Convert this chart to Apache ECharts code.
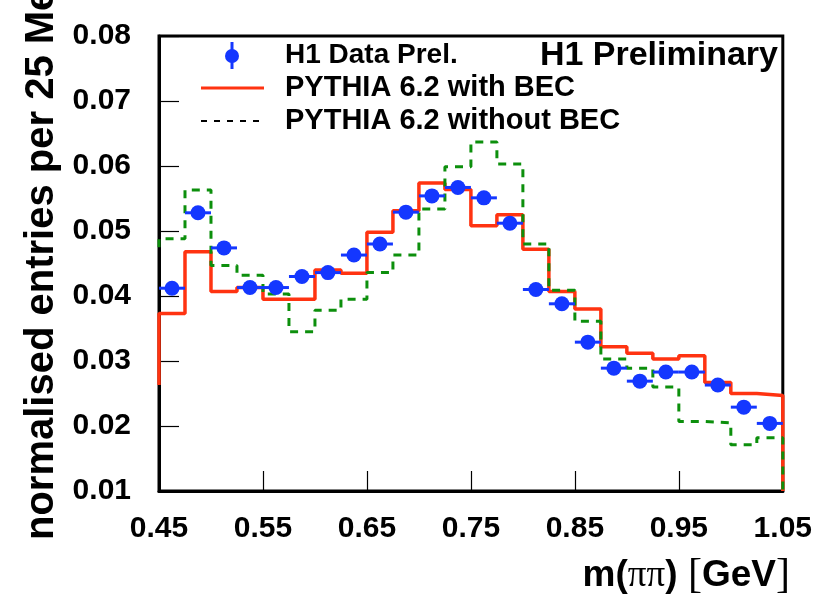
<!DOCTYPE html>
<html>
<head>
<meta charset="utf-8">
<script src="https://cdn.jsdelivr.net/npm/echarts@6/dist/echarts.min.js"></script>
<style>
html,body{margin:0;padding:0;background:#fff;}
#chart{width:815px;height:597px;}
</style>
</head>
<body>
<div id="chart"></div>
<script>
// ---- data (m(pi pi) histogram, 25 MeV bins) ----
const binEdges = [0.450,0.475,0.500,0.525,0.550,0.575,0.600,0.625,0.650,0.675,0.700,0.725,0.750,0.775,0.800,0.825,0.850,0.875,0.900,0.925,0.950,0.975,1.000,1.025,1.050];
const binCenters = [0.4625,0.4875,0.5125,0.5375,0.5625,0.5875,0.6125,0.6375,0.6625,0.6875,0.7125,0.7375,0.7625,0.7875,0.8125,0.8375,0.8625,0.8875,0.9125,0.9375,0.9625,0.9875,1.0125,1.0375];
const h1Data = [0.0412,0.0528,0.0474,0.0413,0.0413,0.0430,0.0436,0.0463,0.0480,0.0529,0.0554,0.0567,0.0551,0.0512,0.0410,0.0388,0.0329,0.0289,0.0269,0.0283,0.0283,0.0263,0.0229,0.0204];
const h1Err = [0.0006,0.0006,0.0006,0.0006,0.0006,0.0006,0.0006,0.0006,0.0006,0.0006,0.0006,0.0006,0.0006,0.0006,0.0006,0.0006,0.0006,0.0006,0.0006,0.0006,0.0006,0.0006,0.0006,0.0006];
const pythiaBEC = [0.0373,0.0468,0.0407,0.0413,0.0395,0.0395,0.0440,0.0435,0.0498,0.0531,0.0574,0.0564,0.0508,0.0525,0.0472,0.0407,0.0380,0.0322,0.0312,0.0303,0.0308,0.0267,0.0250,0.0247];
const pythiaNoBEC = [0.0488,0.0563,0.0447,0.0432,0.0403,0.0345,0.0378,0.0395,0.0436,0.0463,0.0534,0.0599,0.0637,0.0603,0.0480,0.0409,0.0361,0.0303,0.0289,0.0260,0.0207,0.0205,0.0171,0.0182];
// outer-edge levels the histogram outlines drop to (left, right)
const edgeBEC = [0.0263, 0.0100];
const edgeNoBEC = [0.0475, 0.0100];
const xTicks = ['0.45','0.55','0.65','0.75','0.85','0.95','1.05'];
const yTicks = ['0.01','0.02','0.03','0.04','0.05','0.06','0.07','0.08'];

const C_BLUE = '#1437ff', C_RED = '#ff3311', C_GREEN = '#0c8f0c';
const FONT = 'Liberation Sans, Arial, Helvetica, sans-serif';
const SERIF = 'Liberation Serif, DejaVu Serif, serif';

function histPoints(vals, edges, ends) {
  const pts = [[edges[0], ends[0]]];
  for (let i = 0; i < vals.length; i++) {
    pts.push([edges[i], vals[i]]);
    pts.push([edges[i + 1], vals[i]]);
  }
  pts.push([edges[edges.length - 1], ends[1]]);
  return pts;
}

const errData = binCenters.map((c, i) => [c, h1Data[i], binEdges[i], binEdges[i + 1], h1Err[i]]);

const chart = echarts.init(document.getElementById('chart'), null, {renderer: 'canvas'});
const option = {
  animation: false,
  backgroundColor: '#fff',
  grid: {left: 159, right: 26, top: 36, bottom: 106, show: true, borderColor: '#000', borderWidth: 3, backgroundColor: 'transparent'},
  xAxis: {
    type: 'value', min: 0.45, max: 1.05, interval: 0.1,
    axisLine: {show: true, onZero: false, lineStyle: {color: '#000', width: 3}},
    axisTick: {show: true, inside: true, length: 20, lineStyle: {color: '#000', width: 1.2}},
    splitLine: {show: false},
    axisLabel: {
      show: true, margin: 23, color: '#000', fontSize: 30, fontWeight: 'bold', fontFamily: FONT,
      showMinLabel: true, showMaxLabel: true,
      formatter: v => { const s = v.toFixed(2); return xTicks.indexOf(s) >= 0 ? s : ''; }
    }
  },
  yAxis: {
    type: 'value', min: 0.01, max: 0.08, interval: 0.01,
    axisLine: {show: true, onZero: false, lineStyle: {color: '#000', width: 3}},
    axisTick: {show: true, inside: true, length: 20, lineStyle: {color: '#000', width: 1.2}},
    splitLine: {show: false},
    axisLabel: {
      show: true, margin: 28, color: '#000', fontSize: 30, fontWeight: 'bold', fontFamily: FONT,
      showMinLabel: true, showMaxLabel: true,
      formatter: v => { const s = v.toFixed(2); return yTicks.indexOf(s) >= 0 ? s : ''; }
    }
  },
  series: [
    {
      name: 'PYTHIA 6.2 with BEC', type: 'line', data: histPoints(pythiaBEC, binEdges, edgeBEC),
      showSymbol: false, symbol: 'none', clip: false, z: 2,
      lineStyle: {color: C_RED, width: 3.5}
    },
    {
      name: 'PYTHIA 6.2 without BEC', type: 'line', data: histPoints(pythiaNoBEC, binEdges, edgeNoBEC),
      showSymbol: false, symbol: 'none', clip: false, z: 3,
      lineStyle: {color: C_GREEN, width: 3, type: [8, 7]}
    },
    {
      name: 'H1 errors', type: 'custom', data: errData, z: 4,
      renderItem: (params, api) => {
        const y = api.value(1), lo = api.value(2), hi = api.value(3), e = api.value(4), c = api.value(0);
        const p1 = api.coord([lo, y]), p2 = api.coord([hi, y]);
        const q1 = api.coord([c, y - e]), q2 = api.coord([c, y + e]);
        return {type: 'group', children: [
          {type: 'line', shape: {x1: p1[0], y1: p1[1], x2: p2[0], y2: p2[1]}, style: {stroke: C_BLUE, lineWidth: 3}},
          {type: 'line', shape: {x1: q1[0], y1: q1[1], x2: q2[0], y2: q2[1]}, style: {stroke: C_BLUE, lineWidth: 3}}
        ]};
      }
    },
    {
      name: 'H1 Data Prel.', type: 'scatter', data: binCenters.map((c, i) => [c, h1Data[i]]),
      symbol: 'circle', symbolSize: 15, z: 5, itemStyle: {color: C_BLUE, opacity: 1}
    }
  ],
  graphic: [
    // legend
    {type: 'line', shape: {x1: 232, y1: 42, x2: 232, y2: 69}, style: {stroke: C_BLUE, lineWidth: 3}, z: 10},
    {type: 'circle', shape: {cx: 232, cy: 56, r: 7}, style: {fill: C_BLUE}, z: 10},
    {type: 'text', x: 285, y: 55, style: {text: 'H1 Data Prel.', font: 'bold 28px ' + FONT, fill: '#000', textAlign: 'left', textVerticalAlign: 'middle'}, z: 10},
    {type: 'line', shape: {x1: 201, y1: 88, x2: 264, y2: 88}, style: {stroke: C_RED, lineWidth: 3}, z: 10},
    {type: 'text', x: 285, y: 88, style: {text: 'PYTHIA 6.2 with BEC', font: 'bold 29px ' + FONT, fill: '#000', textAlign: 'left', textVerticalAlign: 'middle'}, z: 10},
    {type: 'line', shape: {x1: 201, y1: 121, x2: 264, y2: 121}, style: {stroke: '#000', lineWidth: 2, lineDash: [6, 7]}, z: 10},
    {type: 'text', x: 285, y: 121, style: {text: 'PYTHIA 6.2 without BEC', font: 'bold 29px ' + FONT, fill: '#000', textAlign: 'left', textVerticalAlign: 'middle'}, z: 10},
    {type: 'text', x: 778, y: 56, style: {text: 'H1 Preliminary', font: 'bold 34px ' + FONT, fill: '#000', textAlign: 'right', textVerticalAlign: 'middle'}, z: 10},
    // y axis title
    {type: 'text', x: 42, y: 540, rotation: Math.PI / 2, style: {text: 'normalised entries per 25 MeV', font: 'bold 40px ' + FONT, fill: '#000', textAlign: 'left', textVerticalAlign: 'middle'}, z: 10},
    // x axis title
    {type: 'text', x: 790, y: 576, style: {
      text: '{b|m(}{s|\u03c0\u03c0}{b|)}{k| [}{b|GeV}{k|]}',
      textAlign: 'right', textVerticalAlign: 'middle',
      rich: {
        b: {font: 'bold 37px ' + FONT, fill: '#000'},
        s: {font: '37px ' + SERIF, fill: '#000'},
        k: {font: '42px ' + SERIF, fill: '#000'}
      }
    }, z: 10}
  ]
};
chart.setOption(option);
</script>
</body>
</html>
